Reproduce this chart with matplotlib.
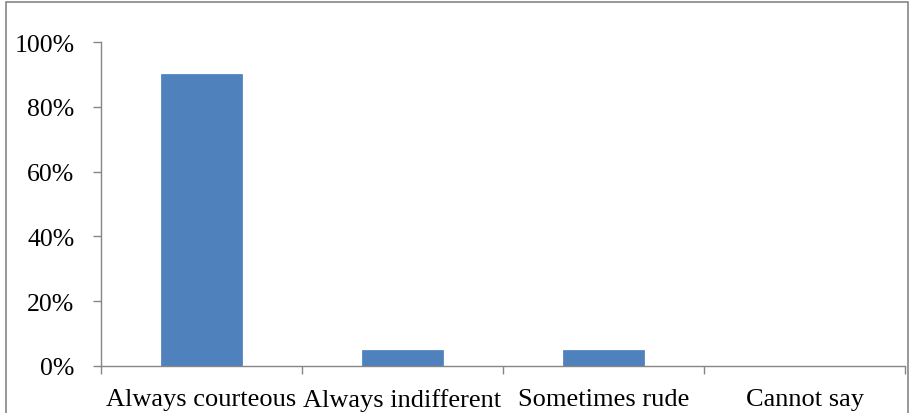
import matplotlib.pyplot as plt
import matplotlib.patches as mpatches
import numpy as np

categories = ['Always courteous', 'Always indifferent', 'Sometimes rude', 'Cannot say']
values = [90, 5, 5, 0]
yticks = [0, 20, 40, 60, 80, 100]

plt.rcParams['font.family'] = ['Liberation Serif', 'DejaVu Serif']

fig = plt.figure(figsize=(9.13, 4.14), dpi=100)
W, H = 913, 414
ax = fig.add_axes([101 / W, (H - 367) / H, 804 / W, 324 / H])

x = np.arange(len(categories))
ax.bar(x, values, width=0.4, color='#4F81BD', edgecolor='#4A7EBB', linewidth=0.5, zorder=2)

ax.set_xlim(-0.5, len(categories) - 0.5)
ax.set_ylim(0, 100)
ax.set_yticks(yticks)
ax.set_yticklabels([f'{t}%' for t in yticks], fontsize=18.5)

# category labels centred, tick marks at the boundaries
ax.set_xticks(x)
ax.set_xticklabels(categories, fontsize=19)
ax.tick_params(axis='x', length=0, pad=16)
ax.set_xticks(np.arange(-0.5, len(categories)), minor=True)
ax.tick_params(axis='x', which='minor', length=6, color='#868686', width=1)
ax.tick_params(axis='y', length=6, color='#868686', width=1, pad=13)

for s in ['top', 'right']:
    ax.spines[s].set_visible(False)
for s in ['left', 'bottom']:
    ax.spines[s].set_color('#868686')
    ax.spines[s].set_linewidth(1)

# outer chart border
fig.patches.append(mpatches.Rectangle((6 / W, -0.05), 902 / W, 1.05 - 3 / H,
                                      transform=fig.transFigure, fill=False,
                                      edgecolor='#868686', linewidth=1.2))

fig.savefig('out.png', dpi=100)
